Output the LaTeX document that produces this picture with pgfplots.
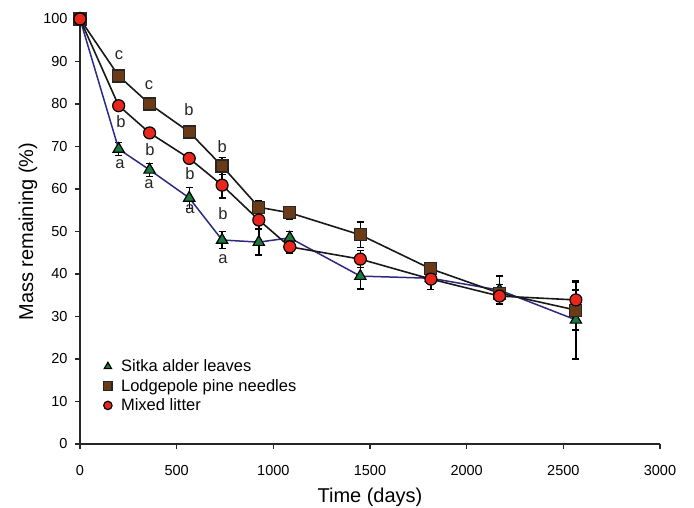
\documentclass[border=0pt]{standalone}
\usepackage{fontspec}
\setmainfont{Liberation Sans}
\usepackage{pgfplots}
\usepackage{pgfplotstable}
\pgfplotsset{compat=1.18}

\definecolor{aldergreen}{HTML}{1B7A3E}
\definecolor{pinebrown}{HTML}{6B3A16}
\definecolor{mixedred}{HTML}{E8261C}
\definecolor{aldernavy}{HTML}{2E2A80}

\pgfplotsset{
    marklegend/.style={legend image code/.code={%
        \draw[##1, mark size=4.2pt] plot[only marks] coordinates {(0pt,0pt)};}},
    errs/.style={draw=none, mark=none, forget plot,
        error bars/.cd, y dir=both, y explicit,
        error bar style={draw=black, line width=1.4pt},
        error mark options={draw=black, rotate=90, mark size=3.5pt, line width=1.4pt}},
}

% days, mass remaining (%), standard error
\pgfplotstableread{
x y e
0 100 0
200 69.4 1.5
360 64.5 1.5
565 57.9 2.5
735 48.0 2.0
925 47.5 3.0
1085 48.5 1.5
1450 39.5 3.0
1815 39.0 1.0
2170 36.2 3.3
2565 29.2 9.2
}\alderdata

\pgfplotstableread{
x y e
0 100 0
200 86.6 1.0
360 80.0 1.0
565 73.4 1.0
735 65.4 2.0
925 55.7 1.5
1085 54.4 1.5
1450 49.2 3.0
1815 41.2 1.0
2170 35.5 2.0
2565 31.5 4.7
}\pinedata

\pgfplotstableread{
x y e
0 100 0
200 79.6 1.0
360 73.2 1.0
565 67.2 1.0
735 60.9 3.0
925 52.7 2.0
1085 46.4 1.5
1450 43.5 2.0
1815 38.8 2.5
2170 34.8 2.0
2565 33.9 4.2
}\mixeddata

\begin{document}
\begin{tikzpicture}
\begin{axis}[
    width=580pt, height=425pt, scale only axis,
    xmin=0, xmax=3000, ymin=0, ymax=100,
    xtick={0,500,...,3000}, ytick={0,10,...,100},
    axis x line*=bottom, axis y line*=left,
    axis line style={line width=1.6pt, black!85},
    tick style={line width=1.4pt, black!85},
    major tick length=5pt, tick align=outside,
    clip=false,
    tick label style={font=\fontsize{14.5}{17}\selectfont},
    /pgf/number format/assume math mode=true,
    /pgf/number format/1000 sep={},
    xticklabel style={yshift=-13pt},
    yticklabel style={xshift=-4pt},
    label style={font=\fontsize{20}{24}\selectfont},
    xlabel={Time (days)}, ylabel={Mass remaining (\%)},
    xlabel style={at={(axis description cs:0.5,-0.1388)}, anchor=base},
    ylabel style={at={(axis description cs:-0.081,0.5)}, anchor=base},
    legend style={draw=none, fill=none, at={(axis cs:106,20.8)}, anchor=north west,
        font=\fontsize{16.5}{20}\selectfont, row sep=2pt,
        /tikz/every odd column/.append style={column sep=7pt}},
    legend cell align=left,
]
% error bars first, so that the markers sit on top of them
\addplot[errs] table[x=x, y=y, y error=e] {\alderdata};
\addplot[errs] table[x=x, y=y, y error=e] {\pinedata};
\addplot[errs] table[x=x, y=y, y error=e] {\mixeddata};

\addplot[aldernavy, line width=1.5pt, mark=triangle*, mark size=6.5pt,
    mark options={fill=aldergreen, draw=black, line width=1.2pt}, marklegend]
    table[x=x, y=y] {\alderdata};
\addlegendentry{Sitka alder leaves}
\addplot[black!90, line width=1.6pt, mark=square*, mark size=6pt,
    mark options={fill=pinebrown, draw=black!85, line width=1.2pt}, marklegend]
    table[x=x, y=y] {\pinedata};
\addlegendentry{Lodgepole pine needles}
\addplot[black!90, line width=1.6pt, mark=*, mark size=6pt,
    mark options={fill=mixedred, draw=black, line width=1.2pt}, marklegend]
    table[x=x, y=y] {\mixeddata};
\addlegendentry{Mixed litter}

% significance letters
\begin{scope}[font=\fontsize{16.5}{20}\selectfont, black!85]
\node at (axis cs:202,91.5) {c};
\node at (axis cs:357,84.5) {c};
\node at (axis cs:564,78.6) {b};
\node at (axis cs:735,69.9) {b};
\node at (axis cs:212,75.8) {b};
\node at (axis cs:362,69.2) {b};
\node at (axis cs:569,63.7) {b};
\node at (axis cs:740,54.3) {b};
\node at (axis cs:207,65.9) {a};
\node at (axis cs:357,61.2) {a};
\node at (axis cs:569,55.3) {a};
\node at (axis cs:740,43.5) {a};
\end{scope}

\coordinate (O) at (axis cs:0,0);
\end{axis}
\pgfresetboundingbox
\path[use as bounding box] ([shift={(-80pt,-64pt)}]O) rectangle ([shift={(614pt,444pt)}]O);
\end{tikzpicture}
\end{document}
